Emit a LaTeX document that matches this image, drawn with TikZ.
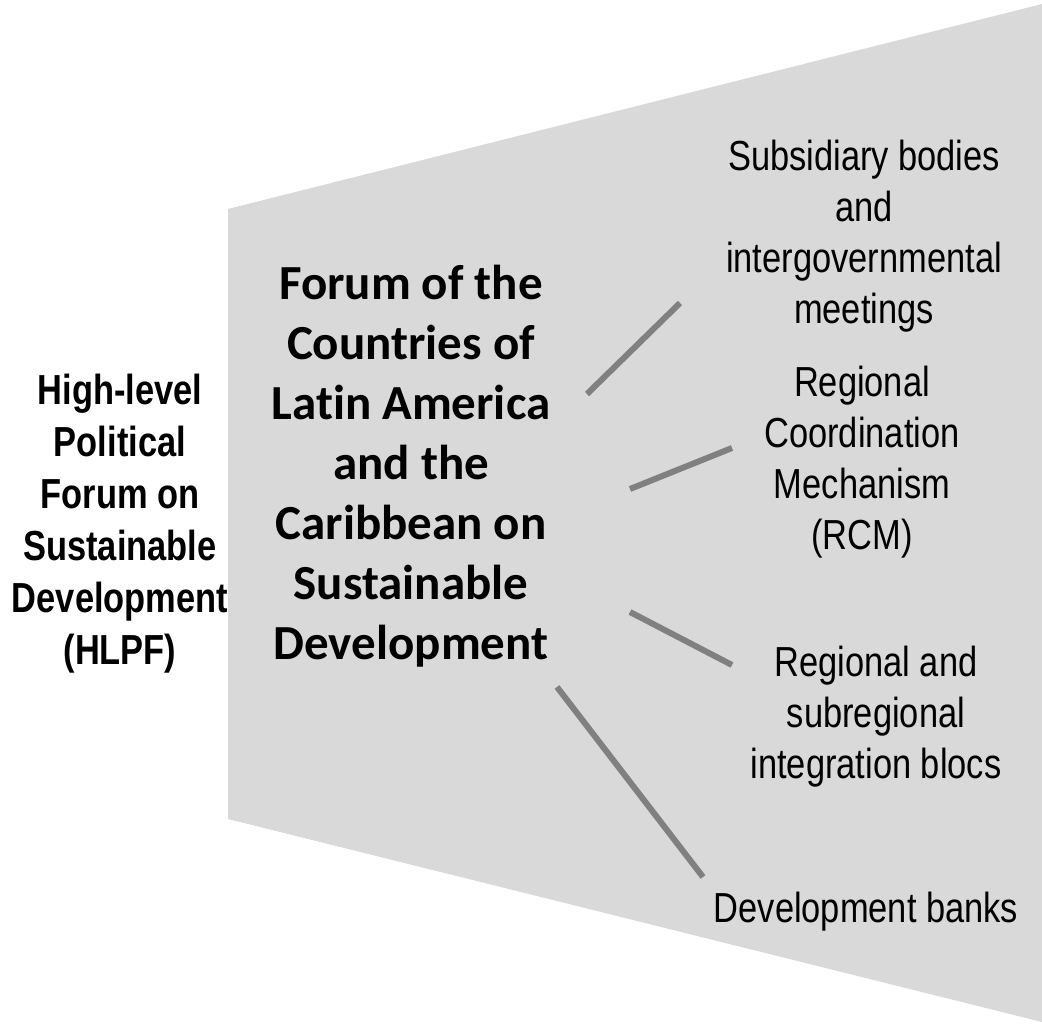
\documentclass[tikz,border=0pt]{standalone}
\usepackage{fontspec}
\newfontfamily\narrowfont[FakeStretch=0.82]{Liberation Sans}
\newfontfamily\calfont[RawFeature=-liga]{Carlito}
\definecolor{panelgray}{HTML}{D9D9D9}
\definecolor{linkgray}{HTML}{808080}
\begin{document}
\begin{tikzpicture}[x=1pt,y=-1pt,
  sidelabel/.style={inner sep=0pt,align=center,font=\narrowfont\fontsize{42}{51}\selectfont},
  hlpflabel/.style={inner sep=0pt,align=center,font=\narrowfont\bfseries\fontsize{42}{52}\selectfont},
  forumlabel/.style={inner sep=0pt,align=center,font=\calfont\bfseries\fontsize{49}{60}\selectfont},
  link/.style={draw=linkgray,line width=6pt}]
\useasboundingbox (0,0) rectangle (1042,1025);

% widening grey panel
\fill[panelgray] (228,209) -- (1042,4) -- (1042,1022) -- (228,819) -- cycle;

% labels
\node[hlpflabel] (hlpf) at (120,524) {High-level\\Political\\Forum on\\Sustainable\\Development\\(HLPF)};
\node[forumlabel] (forum) at (411,466) {Forum of the\\Countries of\\Latin America\\and the\\Caribbean on\\Sustainable\\Development};
\node[sidelabel] (subs) at (864,236) {Subsidiary bodies\\and\\intergovernmental\\meetings};
\node[sidelabel] (rcm) at (862,462) {Regional\\Coordination\\Mechanism\\(RCM)};
\node[sidelabel] (blocs) at (876,717) {Regional and\\subregional\\integration blocs};
\node[sidelabel,anchor=base] (banks) at (866,922) {Development banks};

% connector ends
\coordinate (a1) at (587,394); \coordinate (b1) at (680,303);
\coordinate (a2) at (630,489); \coordinate (b2) at (732,448);
\coordinate (a3) at (630,612); \coordinate (b3) at (732,665);
\coordinate (a4) at (557,687); \coordinate (b4) at (703,877);

\draw[link] (a1) -- (b1);
\draw[link] (a2) -- (b2);
\draw[link] (a3) -- (b3);
\draw[link] (a4) -- (b4);
\end{tikzpicture}
\end{document}
